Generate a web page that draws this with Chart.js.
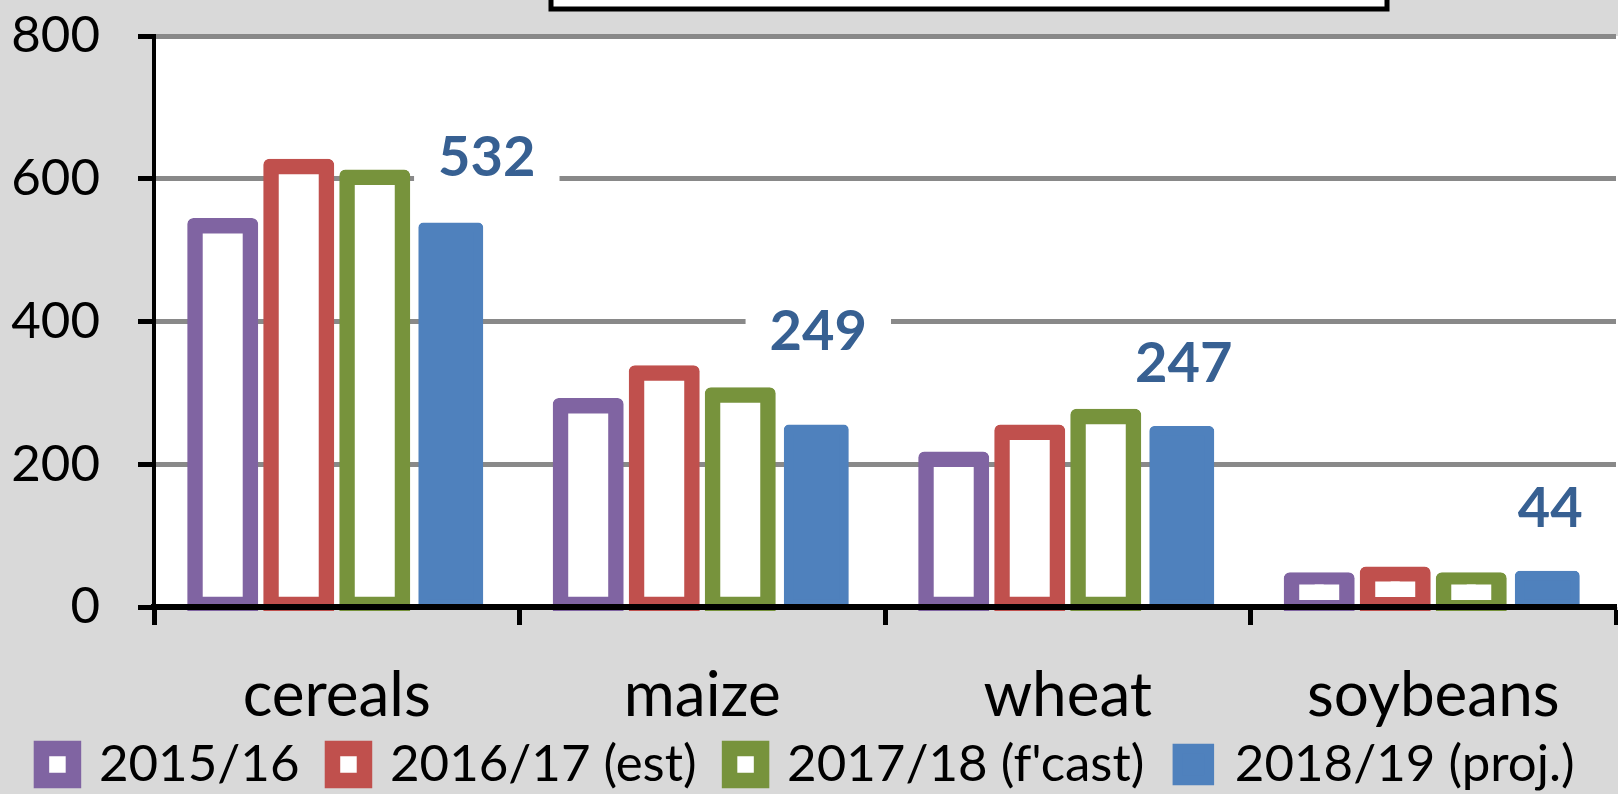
<!DOCTYPE html>
<html>
<head>
<meta charset="utf-8">
<title>Stocks by crop</title>
<script src="https://cdn.jsdelivr.net/npm/chart.js@4.4.1/dist/chart.umd.min.js"></script>
<style>
  html, body { margin: 0; padding: 0; background: #d9d9d9; }
  #wrap { position: relative; width: 1618px; height: 794px; }
</style>
</head>
<body>
<div id="wrap"><canvas id="stocksChart" width="1618" height="794"></canvas></div>
<script>
// values (last season taken from its data labels)
const categories = ["cereals", "maize", "wheat", "soybeans"];
const seasons = ["2015/16", "2016/17 (est)", "2017/18 (f'cast)", "2018/19 (proj.)"];
const values1516 = [534, 282, 207, 38];
const values1617 = [617, 328, 245, 46];
const values1718 = [602, 297, 267, 38];
const values1819 = [532, 249, 247, 44];
const yTicks = [0, 200, 400, 600, 800];

const purple = "#8064a2";
const red = "#c0504d";
const green = "#77933c";
const blue = "#4f81bd";

Chart.defaults.font.family = "Lato, 'Open Sans', sans-serif";
Chart.defaults.color = "#000000";

// grey page, white plot area and the cropped title frame at the top
const backdrop = {
    id: "backdrop",
    beforeDraw(chart) {
        const ctx = chart.ctx;
        const area = chart.chartArea;
        ctx.save();
        ctx.fillStyle = "#d9d9d9";
        ctx.fillRect(0, 0, chart.width, chart.height);
        ctx.fillStyle = "#ffffff";
        ctx.fillRect(area.left, area.top, chart.width - area.left, area.bottom - area.top);
        ctx.fillRect(551, -20, 836, 29);
        ctx.lineWidth = 5;
        ctx.strokeStyle = "#000000";
        ctx.strokeRect(551, -20, 836, 29);
        ctx.restore();
    }
};

// the legend sits tight under the category names
const legendNudge = {
    id: "legendNudge",
    afterLayout(chart, args, opts) {
        if (chart.legend) {
            chart.legend.top += opts.shift;
            chart.legend.bottom += opts.shift;
        }
    }
};

// bold value labels on a white box above the last season's bars
const valueLabels = {
    id: "valueLabels",
    afterDatasetsDraw(chart, args, opts) {
        const ctx = chart.ctx;
        const meta = chart.getDatasetMeta(opts.datasetIndex);
        const data = chart.data.datasets[opts.datasetIndex].data;
        ctx.save();
        ctx.font = "bold 56px Lato, 'Open Sans', sans-serif";
        ctx.textAlign = "center";
        ctx.textBaseline = "middle";
        meta.data.forEach((bar, i) => {
            const txt = String(data[i]);
            const x = bar.x + opts.dx[i];
            const y = bar.y + opts.dy[i];
            const w = ctx.measureText(txt).width + 48;
            const h = 62;
            ctx.fillStyle = "#ffffff";
            ctx.fillRect(x - w / 2, y - h / 2, w, h);
            ctx.fillStyle = "#376092";
            ctx.fillText(txt, x, y + 2);
        });
        ctx.restore();
    }
};

function outlined(label, values, color) {
    return {
        label: label,
        data: values,
        backgroundColor: "#ffffff",
        borderColor: color,
        borderWidth: 15.5,
        inflateAmount: 7.75,
        borderSkipped: false,
        borderRadius: { topLeft: 6, topRight: 6, bottomLeft: 0, bottomRight: 0 },
        clip: { left: false, right: false, top: false, bottom: 4 }
    };
}

const ctx = document.getElementById("stocksChart").getContext("2d");
new Chart(ctx, {
    type: "bar",
    data: {
        labels: categories,
        datasets: [
            outlined(seasons[0], values1516, purple),
            outlined(seasons[1], values1617, red),
            outlined(seasons[2], values1718, green),
            {
                label: seasons[3],
                data: values1819,
                backgroundColor: blue,
                borderColor: blue,
                borderWidth: 9.5,
                inflateAmount: 4.75,
                borderSkipped: false,
                borderRadius: { topLeft: 5, topRight: 5, bottomLeft: 0, bottomRight: 0 },
                clip: { left: false, right: false, top: false, bottom: 4 }
            }
        ]
    },
    options: {
        responsive: false,
        animation: false,
        devicePixelRatio: 1,
        categoryPercentage: 0.832,
        barPercentage: 0.73,
        layout: {
            padding: { top: 36, right: 2, left: 0, bottom: -47 }
        },
        scales: {
            x: {
                afterFit(scale) { scale.height = 140; },
                grid: {
                    offset: true,
                    drawOnChartArea: false,
                    color: "#000000",
                    tickColor: "#000000",
                    tickWidth: 5,
                    tickLength: 18,
                    z: 1
                },
                border: { color: "#000000", width: 6, z: 1 },
                ticks: {
                    autoSkip: false,
                    maxRotation: 0,
                    padding: 34,
                    font: { size: 62 },
                    color: "#000000"
                }
            },
            y: {
                min: 0,
                max: 800,
                afterFit(scale) {
                    scale.width = 154;
                    scale.paddingTop = 0;
                    scale.paddingBottom = 0;
                },
                afterBuildTicks(scale) { scale.ticks = yTicks.map(v => ({ value: v })); },
                grid: {
                    color: "#898989",
                    lineWidth: 5,
                    tickColor: "#000000",
                    tickWidth: 5,
                    tickLength: 16
                },
                border: { color: "#000000", width: 4 },
                ticks: {
                    padding: 38,
                    font: { size: 51 },
                    color: "#000000"
                }
            }
        },
        plugins: {
            legend: {
                position: "bottom",
                align: "center",
                labels: {
                    boxWidth: 32,
                    boxHeight: 32,
                    padding: 33,
                    font: { size: 51 },
                    color: "#000000"
                }
            },
            legendNudge: { shift: -41 },
            tooltip: { enabled: false },
            valueLabels: {
                datasetIndex: 3,
                dx: [36, 2, 2, 3],
                dy: [-71, -99, -69, -69]
            }
        }
    },
    plugins: [backdrop, legendNudge, valueLabels]
});
</script>
</body>
</html>
